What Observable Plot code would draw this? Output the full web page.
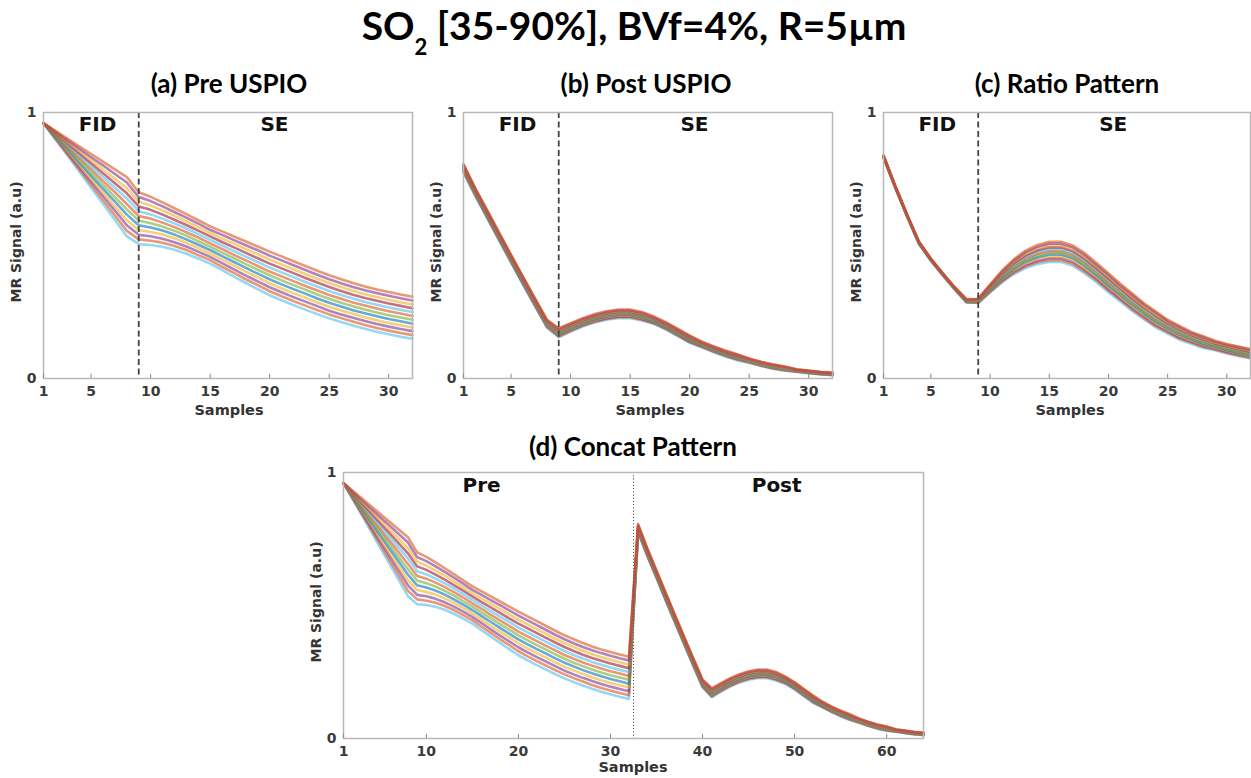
<!DOCTYPE html>
<html>
<head>
<meta charset="utf-8">
<script src="https://cdn.jsdelivr.net/npm/d3@7"></script>
<script src="https://cdn.jsdelivr.net/npm/@observablehq/plot@0.6"></script>
<style>
  body { margin: 0; background: #fff; }
  #wrap { position: relative; width: 1251px; height: 778px; overflow: hidden; font-family: "DejaVu Sans", sans-serif; }
  .abs { position: absolute; }
  .ttl { font-family: Lato, "Open Sans", sans-serif; font-weight: 700; color: #000; white-space: nowrap; transform: translateX(-50%); }
  .ttl sub { font-size: 22px; vertical-align: -15px; line-height: 0; }
  .ylab { font-weight: bold; font-size: 14px; color: #333; white-space: nowrap; transform: translate(-50%, -50%) rotate(-90deg); }
  .xlab { font-weight: bold; font-size: 14.5px; line-height: 16px; color: #333; white-space: nowrap; transform: translate(-50%, -50%); }
  .panel { position: absolute; }
</style>
</head>
<body>
<div id="wrap">
  <div class="abs ttl" style="left:634px; top:6px; font-size:39px; line-height:39px;">SO<sub>2</sub> [35-90%], BVf=4%, R=5µm</div>
  <div class="abs ttl" style="left:229px; top:70px; font-size:26px; line-height:26px;">(a) Pre USPIO</div>
  <div class="abs ttl" style="left:646px; top:70px; font-size:26px; line-height:26px;">(b) Post USPIO</div>
  <div class="abs ttl" style="left:1067px; top:70px; font-size:26px; line-height:26px;">(c) Ratio Pattern</div>
  <div class="abs ttl" style="left:633px; top:433px; font-size:26px; line-height:26px;">(d) Concat Pattern</div>
  <div id="pa" class="panel" style="left:0px; top:100px;"></div>
  <div id="pb" class="panel" style="left:420px; top:100px;"></div>
  <div id="pc" class="panel" style="left:840px; top:100px;"></div>
  <div id="pd" class="panel" style="left:300px; top:460px;"></div>
  <div class="abs ylab" style="left:16px; top:242px;">MR Signal (a.u)</div>
  <div class="abs ylab" style="left:436px; top:242px;">MR Signal (a.u)</div>
  <div class="abs ylab" style="left:856px; top:242px;">MR Signal (a.u)</div>
  <div class="abs ylab" style="left:316px; top:602px;">MR Signal (a.u)</div>
  <div class="abs xlab" style="left:229px; top:410px;">Samples</div>
  <div class="abs xlab" style="left:650px; top:410px;">Samples</div>
  <div class="abs xlab" style="left:1070px; top:410px;">Samples</div>
  <div class="abs xlab" style="left:633px; top:767px;">Samples</div>
</div>
<script>
// ---------------- data ----------------
const samples = [1,2,3,4,5,6,7,8,9,10,11,12,13,14,15,16,17,18,19,20,21,22,23,24,25,26,27,28,29,30,31,32];
const concatSamples = [1,2,3,4,5,6,7,8,9,10,11,12,13,14,15,16,17,18,19,20,21,22,23,24,25,26,27,28,29,30,31,32,
  33,34,35,36,37,38,39,40,41,42,43,44,45,46,47,48,49,50,51,52,53,54,55,56,57,58,59,60,61,62,63,64];
const so2Levels = ["35%","40%","45%","50%","55%","60%","65%","70%","75%","80%","85%","90%"];

// (a) Pre USPIO, one row per SO2 level
const preUSPIO = [
  [0.960,0.899,0.839,0.778,0.717,0.657,0.596,0.535,0.505,0.502,0.495,0.484,0.469,0.451,0.432,0.407,0.383,0.359,0.336,0.313,0.294,0.276,0.259,0.242,0.226,0.212,0.199,0.187,0.176,0.166,0.157,0.149],
  [0.960,0.902,0.844,0.787,0.729,0.671,0.613,0.555,0.523,0.518,0.510,0.498,0.483,0.464,0.445,0.420,0.397,0.373,0.351,0.328,0.309,0.291,0.274,0.257,0.241,0.227,0.214,0.201,0.190,0.180,0.171,0.163],
  [0.960,0.905,0.850,0.795,0.740,0.686,0.631,0.576,0.540,0.535,0.525,0.512,0.496,0.477,0.457,0.434,0.410,0.387,0.365,0.343,0.324,0.306,0.289,0.272,0.255,0.241,0.228,0.216,0.205,0.195,0.186,0.178],
  [0.960,0.908,0.856,0.804,0.752,0.700,0.647,0.595,0.558,0.551,0.541,0.527,0.510,0.490,0.470,0.447,0.424,0.402,0.380,0.358,0.339,0.321,0.304,0.286,0.270,0.256,0.243,0.230,0.219,0.209,0.200,0.192],
  [0.960,0.911,0.862,0.812,0.763,0.714,0.665,0.616,0.576,0.568,0.556,0.541,0.523,0.503,0.483,0.460,0.438,0.416,0.394,0.373,0.354,0.336,0.319,0.301,0.285,0.271,0.257,0.245,0.234,0.224,0.215,0.206],
  [0.960,0.914,0.867,0.821,0.775,0.729,0.682,0.636,0.594,0.584,0.571,0.555,0.537,0.516,0.496,0.473,0.452,0.430,0.409,0.388,0.369,0.351,0.334,0.316,0.300,0.285,0.272,0.259,0.248,0.238,0.229,0.221],
  [0.960,0.917,0.873,0.830,0.786,0.743,0.700,0.656,0.611,0.601,0.586,0.569,0.550,0.530,0.508,0.487,0.465,0.444,0.423,0.402,0.384,0.366,0.348,0.331,0.314,0.300,0.286,0.274,0.263,0.253,0.244,0.235],
  [0.960,0.920,0.879,0.839,0.798,0.758,0.717,0.677,0.629,0.617,0.601,0.583,0.564,0.543,0.521,0.500,0.479,0.458,0.438,0.417,0.399,0.381,0.363,0.346,0.329,0.314,0.301,0.288,0.277,0.267,0.258,0.250],
  [0.960,0.922,0.885,0.847,0.809,0.772,0.734,0.696,0.647,0.634,0.616,0.597,0.577,0.556,0.534,0.513,0.493,0.472,0.452,0.432,0.414,0.396,0.378,0.361,0.344,0.329,0.315,0.303,0.292,0.282,0.273,0.264],
  [0.960,0.925,0.890,0.856,0.821,0.786,0.751,0.716,0.665,0.650,0.632,0.612,0.591,0.569,0.547,0.526,0.507,0.487,0.467,0.447,0.429,0.411,0.393,0.375,0.359,0.344,0.330,0.317,0.306,0.296,0.287,0.278],
  [0.960,0.928,0.896,0.864,0.832,0.801,0.769,0.737,0.682,0.667,0.647,0.626,0.605,0.582,0.559,0.540,0.520,0.501,0.482,0.462,0.444,0.426,0.408,0.390,0.373,0.358,0.344,0.332,0.321,0.311,0.302,0.293],
  [0.960,0.931,0.902,0.873,0.844,0.815,0.786,0.757,0.700,0.683,0.662,0.640,0.618,0.595,0.572,0.553,0.534,0.515,0.496,0.477,0.459,0.441,0.423,0.405,0.388,0.373,0.359,0.346,0.335,0.325,0.316,0.307]
];

// (b) Post USPIO
const postUSPIO = [
  [0.774,0.685,0.602,0.518,0.435,0.353,0.272,0.192,0.155,0.176,0.195,0.210,0.221,0.227,0.227,0.218,0.205,0.184,0.159,0.134,0.117,0.099,0.083,0.069,0.059,0.047,0.037,0.029,0.025,0.020,0.015,0.012],
  [0.777,0.688,0.605,0.521,0.438,0.356,0.275,0.195,0.158,0.179,0.198,0.213,0.224,0.230,0.230,0.221,0.208,0.187,0.162,0.137,0.119,0.101,0.085,0.071,0.060,0.048,0.038,0.030,0.026,0.021,0.016,0.013],
  [0.780,0.690,0.607,0.523,0.440,0.358,0.277,0.197,0.161,0.182,0.201,0.216,0.227,0.233,0.233,0.224,0.210,0.189,0.164,0.139,0.121,0.103,0.087,0.073,0.062,0.050,0.040,0.032,0.027,0.022,0.017,0.014],
  [0.783,0.693,0.610,0.526,0.443,0.361,0.280,0.200,0.164,0.185,0.204,0.219,0.230,0.236,0.236,0.227,0.213,0.192,0.167,0.142,0.123,0.105,0.089,0.075,0.063,0.051,0.041,0.033,0.028,0.023,0.018,0.015],
  [0.786,0.696,0.613,0.529,0.446,0.364,0.283,0.203,0.167,0.188,0.207,0.222,0.233,0.239,0.239,0.230,0.215,0.194,0.169,0.144,0.125,0.107,0.091,0.077,0.065,0.053,0.043,0.035,0.029,0.024,0.019,0.016],
  [0.789,0.699,0.616,0.532,0.449,0.367,0.286,0.206,0.170,0.191,0.210,0.225,0.236,0.242,0.242,0.233,0.218,0.197,0.172,0.147,0.127,0.109,0.093,0.079,0.066,0.054,0.044,0.036,0.030,0.025,0.020,0.017],
  [0.791,0.701,0.618,0.534,0.451,0.369,0.288,0.208,0.174,0.193,0.212,0.227,0.238,0.244,0.244,0.235,0.220,0.199,0.174,0.149,0.129,0.111,0.095,0.081,0.068,0.056,0.046,0.038,0.030,0.025,0.020,0.017],
  [0.794,0.704,0.621,0.537,0.454,0.372,0.291,0.211,0.177,0.196,0.215,0.230,0.241,0.247,0.247,0.238,0.223,0.202,0.177,0.152,0.131,0.113,0.097,0.083,0.069,0.057,0.047,0.039,0.031,0.026,0.021,0.018],
  [0.797,0.707,0.624,0.540,0.457,0.375,0.294,0.214,0.180,0.199,0.218,0.233,0.244,0.250,0.250,0.241,0.225,0.204,0.179,0.154,0.133,0.115,0.099,0.085,0.071,0.059,0.049,0.041,0.032,0.027,0.022,0.019],
  [0.800,0.710,0.627,0.543,0.460,0.378,0.297,0.217,0.183,0.202,0.221,0.236,0.247,0.253,0.253,0.244,0.228,0.207,0.182,0.157,0.135,0.117,0.101,0.087,0.072,0.060,0.050,0.042,0.033,0.028,0.023,0.020],
  [0.803,0.712,0.629,0.545,0.462,0.380,0.299,0.219,0.186,0.205,0.224,0.239,0.250,0.256,0.256,0.247,0.230,0.209,0.184,0.159,0.137,0.119,0.103,0.089,0.074,0.062,0.052,0.044,0.034,0.029,0.024,0.021],
  [0.806,0.715,0.632,0.548,0.465,0.383,0.302,0.222,0.189,0.208,0.227,0.242,0.253,0.259,0.259,0.250,0.233,0.212,0.187,0.162,0.139,0.121,0.105,0.091,0.075,0.063,0.053,0.045,0.035,0.030,0.025,0.022]
];

// (c) Ratio Pattern
const ratioPattern = [
  [0.831,0.716,0.608,0.506,0.443,0.388,0.336,0.286,0.284,0.323,0.361,0.392,0.415,0.430,0.438,0.438,0.424,0.395,0.362,0.324,0.290,0.254,0.223,0.192,0.169,0.146,0.131,0.115,0.106,0.094,0.084,0.075],
  [0.832,0.717,0.609,0.507,0.444,0.389,0.337,0.287,0.285,0.326,0.365,0.397,0.421,0.437,0.445,0.445,0.431,0.402,0.369,0.331,0.296,0.260,0.228,0.197,0.174,0.151,0.135,0.119,0.109,0.097,0.087,0.078],
  [0.832,0.717,0.609,0.507,0.444,0.389,0.337,0.288,0.287,0.328,0.369,0.402,0.427,0.443,0.452,0.452,0.438,0.409,0.375,0.337,0.302,0.266,0.234,0.203,0.178,0.155,0.139,0.123,0.113,0.101,0.091,0.082],
  [0.833,0.718,0.610,0.508,0.445,0.390,0.338,0.289,0.288,0.331,0.373,0.407,0.433,0.450,0.459,0.459,0.445,0.416,0.382,0.344,0.308,0.272,0.239,0.208,0.183,0.160,0.143,0.127,0.116,0.104,0.094,0.085],
  [0.834,0.719,0.611,0.509,0.446,0.391,0.339,0.290,0.290,0.334,0.377,0.412,0.439,0.456,0.466,0.466,0.452,0.423,0.388,0.350,0.314,0.278,0.245,0.214,0.188,0.165,0.147,0.131,0.119,0.107,0.097,0.088],
  [0.835,0.720,0.612,0.510,0.447,0.392,0.340,0.291,0.291,0.337,0.381,0.417,0.445,0.463,0.473,0.473,0.459,0.430,0.395,0.357,0.320,0.284,0.250,0.219,0.193,0.170,0.151,0.135,0.122,0.110,0.100,0.091],
  [0.835,0.720,0.612,0.510,0.447,0.392,0.340,0.293,0.293,0.339,0.385,0.423,0.451,0.469,0.479,0.479,0.465,0.436,0.401,0.363,0.326,0.290,0.256,0.225,0.197,0.174,0.155,0.139,0.126,0.114,0.104,0.095],
  [0.836,0.721,0.613,0.511,0.448,0.393,0.341,0.294,0.294,0.342,0.389,0.428,0.457,0.476,0.486,0.486,0.472,0.443,0.408,0.370,0.332,0.296,0.261,0.230,0.202,0.179,0.159,0.143,0.129,0.117,0.107,0.098],
  [0.837,0.722,0.614,0.512,0.449,0.394,0.342,0.295,0.296,0.345,0.393,0.433,0.463,0.482,0.493,0.493,0.479,0.450,0.414,0.376,0.338,0.302,0.267,0.236,0.207,0.184,0.163,0.147,0.132,0.120,0.110,0.101],
  [0.838,0.723,0.615,0.513,0.450,0.395,0.343,0.296,0.297,0.348,0.397,0.438,0.469,0.489,0.500,0.500,0.486,0.457,0.421,0.383,0.344,0.308,0.272,0.241,0.212,0.189,0.167,0.151,0.135,0.123,0.113,0.104],
  [0.838,0.723,0.615,0.513,0.450,0.395,0.343,0.297,0.299,0.350,0.401,0.443,0.475,0.495,0.507,0.507,0.493,0.464,0.427,0.389,0.350,0.314,0.278,0.247,0.216,0.193,0.171,0.155,0.139,0.127,0.117,0.108],
  [0.839,0.724,0.616,0.514,0.451,0.396,0.344,0.298,0.300,0.353,0.405,0.448,0.481,0.502,0.514,0.514,0.500,0.471,0.434,0.396,0.356,0.320,0.283,0.252,0.221,0.198,0.175,0.159,0.142,0.130,0.120,0.111]
];

// axis ticks
const ticksShort = [1,5,10,15,20,25,30];
const ticksLong = [1,10,20,30,40,50,60];
const yTicks = [0,1];
const lineColors = ["#4DBEEE","#D95319","#7E2F8E","#EDB120","#0072BD","#77AC30","#D95319","#4DBEEE","#A2142F","#EDB120","#7E2F8E","#D95319"];

// ---------------- build ----------------
function toRows(curves, xs) {
  const rows = [];
  curves.forEach((c, k) => c.forEach((v, i) => rows.push({x: xs[i], y: v, so2: so2Levels[k]})));
  return rows;
}
const concatCurves = preUSPIO.map((c, k) => c.concat(postUSPIO[k]));

function panel({rows, xDomain, xTicks, divider, dash, dividerColor, dividerWidth, labels, width, marginRight}) {
  return Plot.plot({
    width, height: 320,
    marginLeft: 43, marginRight, marginTop: 12, marginBottom: 42,
    x: {domain: xDomain},
    y: {domain: [0, 1]},
    color: {domain: so2Levels, range: lineColors},
    style: {fontFamily: "DejaVu Sans", fontWeight: "bold", fontSize: "14px", color: "#3a3a3a", background: "transparent", overflow: "visible"},
    marks: [
      Plot.line(rows, {x: "x", y: "y", z: "so2", stroke: "so2", strokeWidth: 2.6, strokeOpacity: 0.6}),
      Plot.ruleX([divider], {stroke: dividerColor, strokeWidth: dividerWidth, strokeDasharray: dash}),
      Plot.frame({stroke: "#b8b8b8", strokeWidth: 1.5}),
      Plot.ruleX(xTicks, {x: d => d, y1: 0, y2: 0.016, stroke: "#8a8a8a", strokeWidth: 1}),
      Plot.axisX({ticks: xTicks, tickSize: 0, tickPadding: 8, fontSize: 14, fontWeight: "bold", tickFormat: d => String(d), label: null}),
      Plot.axisY({ticks: yTicks, tickSize: 0, tickPadding: 7, fontSize: 14, fontWeight: "bold", tickFormat: d => String(d), label: null}),
      Plot.text(labels, {x: "x", y: "y", text: "t", fontSize: 20, fontWeight: "bold", fill: "#111", fontFamily: "DejaVu Sans"})
    ]
  });
}

const fidSe = [{x: 5.54, y: 0.955, t: "FID"}, {x: 20.4, y: 0.955, t: "SE"}];

document.getElementById("pa").append(panel({
  rows: toRows(preUSPIO, samples), xDomain: [1, 32], xTicks: ticksShort, divider: 9,
  dash: "6,3.5", dividerColor: "#444", dividerWidth: 1.8, labels: fidSe, width: 420, marginRight: 8
}));
document.getElementById("pb").append(panel({
  rows: toRows(postUSPIO, samples), xDomain: [1, 32], xTicks: ticksShort, divider: 9,
  dash: "6,3.5", dividerColor: "#444", dividerWidth: 1.8, labels: fidSe, width: 420, marginRight: 8
}));
document.getElementById("pc").append(panel({
  rows: toRows(ratioPattern, samples), xDomain: [1, 32], xTicks: ticksShort, divider: 9,
  dash: "6,3.5", dividerColor: "#444", dividerWidth: 1.8, labels: fidSe, width: 411, marginRight: 1
}));
document.getElementById("pd").append(panel({
  rows: toRows(concatCurves, concatSamples), xDomain: [1, 64], xTicks: ticksLong, divider: 32.5,
  dash: "1.2,2", dividerColor: "#555", dividerWidth: 1,
  labels: [{x: 16, y: 0.951, t: "Pre"}, {x: 48.05, y: 0.951, t: "Post"}], width: 630, marginRight: 7
}));
</script>
</body>
</html>
